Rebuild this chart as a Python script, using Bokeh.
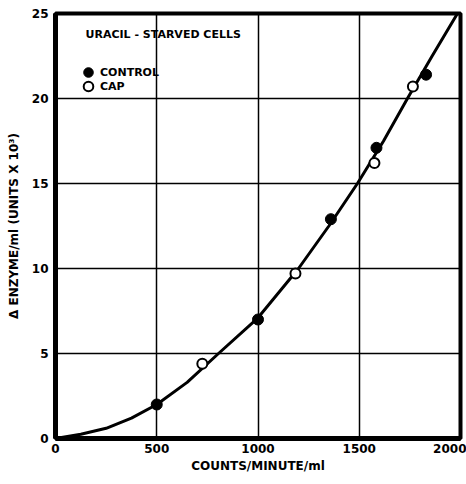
from bokeh.plotting import figure
from bokeh.models import Range1d, FixedTicker, Label, Legend, LegendItem
from bokeh.embed import file_html
from bokeh.resources import INLINE

# Data
control_x = [500, 1000, 1360, 1585, 1830]
control_y = [2.0, 7.0, 12.9, 17.1, 21.4]
cap_x = [725, 1185, 1575, 1765]
cap_y = [4.4, 9.7, 16.2, 20.7]
curve_x = [0, 125, 250, 375, 500, 650, 805, 1000, 1200, 1350, 1491, 1620, 1738, 1860, 1985]
curve_y = [0.0, 0.25, 0.6, 1.2, 2.0, 3.3, 5.0, 7.1, 10.0, 12.5, 15.0, 17.5, 20.0, 22.5, 25.0]
x_ticks = [0, 500, 1000, 1500, 2000]
y_ticks = [0, 5, 10, 15, 20, 25]

FONT = "DejaVu Sans"

p = figure(output_backend="svg", toolbar_location=None,
           frame_width=405, frame_height=425,
           x_range=Range1d(0, 2000), y_range=Range1d(0, 25),
           min_border_left=55, min_border_right=6, min_border_top=13, min_border_bottom=10)

p.outline_line_color = "black"
p.outline_line_width = 4
p.background_fill_color = "white"
p.border_fill_color = "white"

for ax in (p.xaxis[0], p.yaxis[0]):
    ax.axis_line_width = 5
    ax.axis_line_color = "black"
    ax.major_tick_in = 0
    ax.major_tick_out = 0
    ax.minor_tick_in = 0
    ax.minor_tick_out = 0
    ax.major_label_text_font = FONT
    ax.major_label_text_font_style = "bold"
    ax.major_label_text_font_size = "12px"
    ax.major_label_text_color = "black"
    ax.axis_label_text_font = FONT
    ax.axis_label_text_font_style = "bold"
    ax.axis_label_text_font_size = "12px"
    ax.axis_label_text_color = "black"

p.xaxis.ticker = FixedTicker(ticks=x_ticks)
p.yaxis.ticker = FixedTicker(ticks=y_ticks)
p.xaxis.axis_label = "COUNTS/MINUTE/ml"
p.yaxis.axis_label = "\u0394 ENZYME/ml (UNITS X 10\u00b3)"
p.xaxis.major_label_standoff = 5
p.yaxis.major_label_standoff = 7
p.xaxis.axis_label_standoff = 3
p.yaxis.axis_label_standoff = 8

p.xgrid.ticker = FixedTicker(ticks=[500, 1000, 1500])
p.ygrid.ticker = FixedTicker(ticks=[5, 10, 15, 20])
p.grid.grid_line_color = "black"
p.grid.grid_line_width = 1.5

p.line(curve_x, curve_y, line_color="black", line_width=3)
r_ctrl = p.scatter(control_x, control_y, size=11, fill_color="black", line_color="black")
r_cap = p.scatter(cap_x, cap_y, size=10, fill_color="white", line_color="black", line_width=2)

def make_legend(label, renderer, ypos):
    return Legend(items=[LegendItem(label=label, renderers=[renderer])],
                  location=(21, ypos), border_line_color=None, background_fill_alpha=0,
                  padding=0, spacing=0, margin=0, glyph_width=24, glyph_height=24,
                  label_standoff=0, label_text_font=FONT, label_text_font_style="bold",
                  label_text_font_size="11px", label_text_color="black", label_height=24)

p.add_layout(make_legend("CONTROL", r_ctrl, 354))
p.add_layout(make_legend("CAP", r_cap, 340))

p.add_layout(Label(x=30, y=404, x_units="screen", y_units="screen",
                   text="URACIL - STARVED CELLS", text_font=FONT, text_font_style="bold",
                   text_font_size="11px", text_baseline="middle", text_color="black"))

open("out.html", "w").write(file_html(p, INLINE))
